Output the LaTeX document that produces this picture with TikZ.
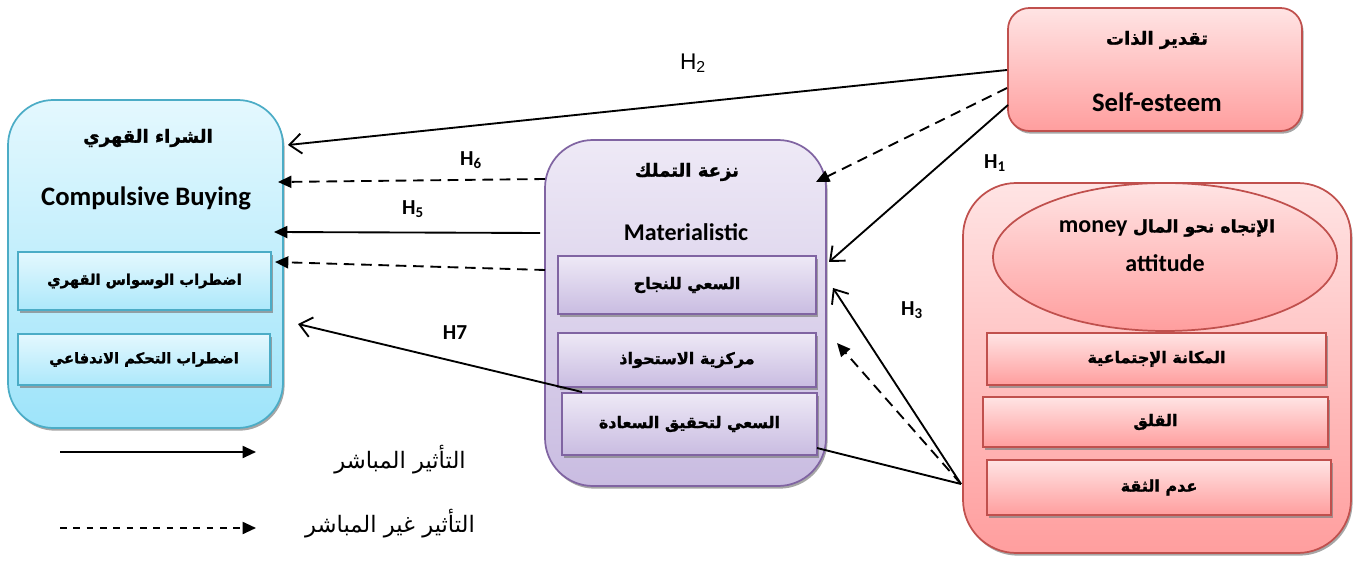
\documentclass[tikz,border=0pt]{standalone}
\usepackage{fontspec}
\setmainfont{Carlito}
\newfontfamily\ar[Script=Arabic]{DejaVu Sans}
\newfontfamily\arb[Script=Arabic,FakeBold=1.5]{DejaVu Sans}
\newfontfamily\arialf{Liberation Sans}
\TeXXeTstate=1
\usetikzlibrary{shadows,shapes.geometric,fit,arrows.meta}
\definecolor{bluedraw}{HTML}{4BACC6}
\definecolor{bluetop}{HTML}{E4F8FE}
\definecolor{bluebot}{HTML}{9EE4FA}
\definecolor{purdraw}{HTML}{8064A2}
\definecolor{purtop}{HTML}{EEE9F6}
\definecolor{purbot}{HTML}{C9BCE1}
\definecolor{pinkdraw}{HTML}{C0504D}
\definecolor{pinktop}{HTML}{FFE4E4}
\definecolor{pinkbot}{HTML}{FF9E9E}
\begin{document}
\begin{tikzpicture}[x=0.75pt,y=-0.75pt,
  shadowed/.style={drop shadow={shadow xshift=1.2pt,shadow yshift=-2pt,fill=black!50,opacity=0.7}},
  boxbase/.style={inner sep=0pt,shadowed},
  bigblue/.style={boxbase,draw=bluedraw,line width=1.3pt,rounded corners=34pt,top color=bluetop,bottom color=bluebot},
  subblue/.style={boxbase,draw=bluedraw,line width=1.3pt,top color=bluetop,bottom color=bluebot!85!white},
  bigpur/.style={boxbase,draw=purdraw,line width=1.3pt,rounded corners=36pt,top color=purtop,bottom color=purbot},
  subpur/.style={boxbase,draw=purdraw,line width=1.3pt,top color=purtop,bottom color=purbot},
  bigpink/.style={boxbase,draw=pinkdraw,line width=1.3pt,rounded corners=40pt,top color=pinktop,bottom color=pinkbot},
  sepink/.style={boxbase,draw=pinkdraw,line width=1.3pt,rounded corners=16pt,top color=pinktop,bottom color=pinkbot},
  subpink/.style={boxbase,draw=pinkdraw,line width=1.3pt,top color=pinktop,bottom color=pinkbot},
  artitle/.style={font=\arb\bfseries\fontsize{13.5}{16}\selectfont,inner sep=0pt},
  arsub/.style={font=\arb\bfseries\fontsize{12}{14}\selectfont,inner sep=0pt},
  arsubl/.style={font=\arb\bfseries\fontsize{11}{13}\selectfont,inner sep=0pt},
  entitle/.style={font=\bfseries\fontsize{19}{22}\selectfont,inner sep=0pt},
  hlabel/.style={font=\bfseries\fontsize{16}{18}\selectfont,inner sep=0pt},
  legtext/.style={font=\ar\fontsize{17}{19}\selectfont,inner sep=0pt},
  direct/.style={line width=1.4pt,-{Triangle[length=10pt,width=9pt]}},
  indirect/.style={direct,dash pattern=on 8pt off 5pt},
  openarr/.style={line width=1.4pt,-{Straight Barb[length=9pt,width=15pt,line width=1.4pt]}}
]
\useasboundingbox (0,0) rectangle (1365,563);
% Compulsive buying
\node[bigblue,fit={(8,100)(283,428)}] (cb) {};
\node[artitle] (cbar) at (148,138) {\beginR الشراء القهري\endR};
\node[entitle,font=\bfseries\fontsize{20}{23}\selectfont] (cben) at (146,198) {Compulsive Buying};
\node[subblue,fit={(18,252)(271,310)}] (cb1) {};
\node[arsubl] at (cb1.center) {\beginR اضطراب الوسواس القهري\endR};
\node[subblue,fit={(18,334)(270,385)}] (cb2) {};
\node[arsubl] at (cb2.center) {\beginR اضطراب التحكم الاندفاعي\endR};
% Materialistic
\node[bigpur,fit={(545,140)(826,486)}] (mt) {};
\node[artitle] (mtar) at (687,172) {\beginR نزعة التملك\endR};
\node[entitle,font=\bfseries\fontsize{18}{21}\selectfont] (mten) at (686,232) {Materialistic};
\node[subpur,fit={(558,256)(816,314)}] (mt1) {};
\node[arsub] at (mt1.center) {\beginR السعي للنجاح\endR};
\node[subpur,fit={(558,333)(816,387)}] (mt2) {};
\node[arsub] at (mt2.center) {\beginR مركزية الاستحواذ\endR};
\node[subpur,fit={(562,393)(817,455)}] (mt3) {};
\node[arsub] at (mt3.center) {\beginR السعي لتحقيق السعادة\endR};
% Self-esteem
\node[sepink,fit={(1008,8)(1302,131)}] (se) {};
\node[artitle] (sear) at (1157,40) {\beginR تقدير الذات\endR};
\node[entitle,font=\bfseries\fontsize{20}{23}\selectfont] (seen) at (1157,102) {Self-esteem};
% Money attitude
\node[bigpink,fit={(963,183)(1351,553)}] (ma) {};
\node[ellipse,draw=pinkdraw,line width=1.3pt,top color=pinktop,bottom color=pinkbot,minimum width=344*0.75pt,minimum height=148*0.75pt,inner sep=0pt] (mael) at (1165,257) {};
\node[font=\bfseries\fontsize{18}{21}\selectfont,inner sep=0pt] (matx1) at (1167,228) {\beginR{\arb\bfseries\fontsize{13}{15}\selectfont الإتجاه نحو المال} \beginL money\endL\endR};
\node[entitle,font=\bfseries\fontsize{18}{21}\selectfont] (matx2) at (1165,263) {attitude};
\node[subpink,fit={(987,333)(1326,385)}] (ma1) {};
\node[arsub] at (ma1.center) {\beginR المكانة الإجتماعية\endR};
\node[subpink,fit={(983,397)(1328,447)}] (ma2) {};
\node[arsub] at (ma2.center) {\beginR القلق\endR};
\node[subpink,fit={(987,460)(1331,515)}] (ma3) {};
\node[arsub] at (ma3.center) {\beginR عدم الثقة\endR};
% connector end points
\coordinate (seA) at (1007,70);
\coordinate (seB) at (1007,88);
\coordinate (seC) at (1008,105);
\coordinate (cbA) at (288,145);
\coordinate (cbB) at (278,182);
\coordinate (cbC) at (274,232);
\coordinate (cbD) at (275,262);
\coordinate (cbE) at (298,324);
\coordinate (mtA) at (545,179);
\coordinate (mtB) at (540,233);
\coordinate (mtC) at (545,270);
\coordinate (mtD) at (582,392);
\coordinate (mtE) at (816,182);
\coordinate (mtF) at (829,262);
\coordinate (mtG) at (833,288);
\coordinate (mtH) at (837,343);
\coordinate (mtI) at (817,448);
\coordinate (maA) at (961,484);
% connectors
\draw[openarr] (seA) -- (cbA);
\draw[indirect] (mtA) -- (cbB);
\draw[direct] (mtB) -- (cbC);
\draw[indirect] (mtC) -- (cbD);
\draw[openarr] (mtD) -- (cbE);
\draw[indirect] (seB) -- (mtE);
\draw[openarr] (seC) -- (mtF);
\draw[openarr] (maA) -- (mtG);
\draw[indirect] (maA) -- (mtH);
\draw[line width=1.4pt] (mtI) -- (maA);
% labels
\node[font=\arialf\fontsize{17}{19}\selectfont,inner sep=0pt] (h2) at (693,63) {H\textsubscript{2}};
\node[hlabel] (h6) at (471,160) {H\textsubscript{6}};
\node[hlabel] (h5) at (413,209) {H\textsubscript{5}};
\node[hlabel] (h7) at (455,333) {H7};
\node[hlabel] (h1) at (995,163) {H\textsubscript{1}};
\node[hlabel] (h3) at (912,310) {H\textsubscript{3}};
% legend
\coordinate (l1s) at (60,452);
\coordinate (l1e) at (256,452);
\coordinate (l2s) at (60,528);
\coordinate (l2e) at (256,528);
\draw[direct] (l1s) -- (l1e);
\draw[line width=1.4pt,dash pattern=on 5pt off 5pt,-{Triangle[length=10pt,width=9pt]}] (l2s) -- (l2e);
\node[legtext] (lg1) at (400,460) {\beginR التأثير المباشر\endR};
\node[legtext] (lg2) at (390,524) {\beginR التأثير غير المباشر\endR};
\end{tikzpicture}
\end{document}
